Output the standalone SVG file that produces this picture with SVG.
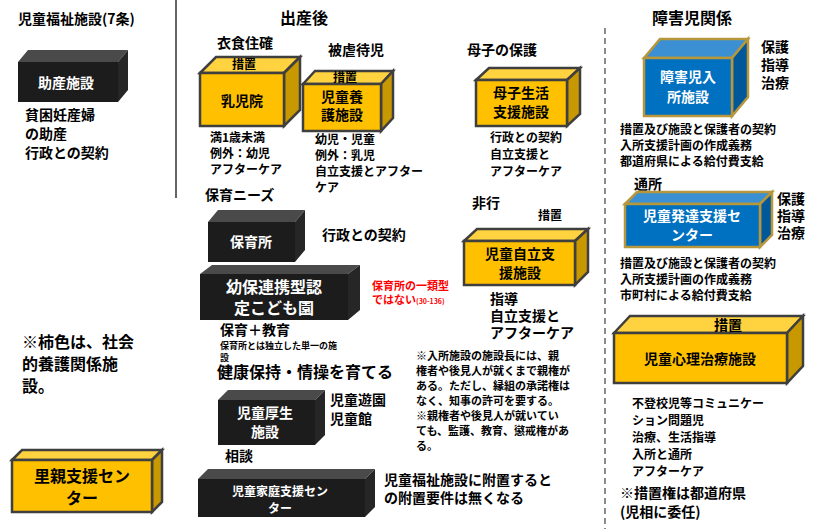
<svg xmlns="http://www.w3.org/2000/svg" width="819" height="529" viewBox="0 0 819 529">
<style>
text{font-family:"Noto Sans CJK JP","Noto Sans",sans-serif;font-weight:bold;fill:#000}
.t{font-size:14px}.s{font-size:12px}.h{font-size:16px}
.w{fill:#fff}.c{text-anchor:middle}
.yf{fill:#FFC000;stroke:#3f3f3f;stroke-width:2.5}.yt{fill:#FFD23F;stroke:#3f3f3f;stroke-width:2.5}.ys{fill:#C89800;stroke:#3f3f3f;stroke-width:2.5}
.bf{fill:#0070C0;stroke:#B8963C;stroke-width:2.5}.bt{fill:#3A90D2;stroke:#B8963C;stroke-width:2.5}.bs{fill:#00589A;stroke:#B8963C;stroke-width:2.5}
.kf{fill:#1c1c1c}.kt{fill:#4a4a4a}.ks{fill:#262626}
</style>
<rect width="819" height="529" fill="#fff"/>
<g id="connectors">
<line x1="176" y1="0" x2="176" y2="198" stroke="#333" stroke-width="1.5"/>
<line x1="605" y1="28" x2="605" y2="529" stroke="#666" stroke-width="1.5" stroke-dasharray="6,4"/>
</g>
<text x="18" y="24" class="t">児童福祉施設(7条)</text>
<text x="280" y="24" class="h">出産後</text>
<text x="652" y="24" class="h">障害児関係</text>
<g id="josan"><polygon class="kt" points="18,62 28,50 128,50 118,62"/><polygon class="ks" points="118,62 128,50 128,90 118,102"/><rect class="kf" x="18" y="62" width="100" height="40"/><text x="66" y="88" class="t w c">助産施設</text>
<text x="25" y="120" class="t">貧困妊産婦</text><text x="25" y="139" class="t">の助産</text><text x="25" y="158" class="t">行政との契約</text></g>
<g id="nyuji"><text x="217" y="48" class="t">衣食住確</text><polygon class="yt" points="200,73 216,57 300,57 284,73"/><polygon class="ys" points="284,73 300,57 300,110 284,126"/><rect class="yf" x="200" y="73" width="84" height="53"/><text x="244" y="69" class="s c">措置</text><text x="242" y="106" class="t c">乳児院</text>
<text x="210" y="142" class="s">満1歳未満</text><text x="210" y="158" class="s">例外：幼児</text><text x="210" y="174" class="s">アフターケア</text></g>
<g id="yogo"><text x="328" y="55" class="t">被虐待児</text><polygon class="yt" points="303,84 315,71 393,71 381,84"/><polygon class="ys" points="381,84 393,71 393,118 381,131"/><rect class="yf" x="303" y="84" width="78" height="47"/><text x="345" y="82" class="s c">措置</text><text x="342" y="102" class="t c">児童養</text><text x="342" y="120" class="t c">護施設</text>
<text x="315" y="144" class="s">幼児・児童</text><text x="315" y="160" class="s">例外：乳児</text><text x="315" y="176" class="s">自立支援とアフター</text><text x="315" y="192" class="s">ケア</text></g>
<g id="boshi"><text x="467" y="55" class="t">母子の保護</text><polygon class="yt" points="476,80 489,68 580,68 567,80"/><polygon class="ys" points="567,80 580,68 580,114 567,126"/><rect class="yf" x="476" y="80" width="91" height="46"/><text x="521" y="98" class="t c">母子生活</text><text x="521" y="117" class="t c">支援施設</text>
<text x="490" y="142" class="s">行政との契約</text><text x="490" y="159" class="s">自立支援と</text><text x="490" y="176" class="s">アフターケア</text></g>
<g id="hoikusho"><text x="205" y="200" class="t">保育ニーズ</text><polygon class="kt" points="208,222 218,210 305,210 295,222"/><polygon class="ks" points="295,222 305,210 305,250 295,262"/><rect class="kf" x="208" y="222" width="87" height="40"/><text x="251" y="247" class="t w c">保育所</text>
<text x="322" y="240" class="t">行政との契約</text></g>
<g id="kodomoen"><polygon class="kt" points="200,274 212,265 360,265 348,274"/><polygon class="ks" points="348,274 360,265 360,310 348,320"/><rect class="kf" x="200" y="274" width="148" height="46"/><text x="274" y="293" class="h w c">幼保連携型認</text><text x="274" y="314" class="h w c">定こども園</text>
<text x="372" y="290" font-size="11" style="fill:#f00">保育所の一類型</text><text x="372" y="304" font-size="11" style="fill:#f00">ではない<tspan font-size="7">(30-136)</tspan></text>
<text x="220" y="335" class="t">保育＋教育</text><text x="220" y="349" font-size="9">保育所とは独立した単一の施</text><text x="220" y="361" font-size="9">設</text><text x="217" y="378" class="h">健康保持・情操を育てる</text></g>
<g id="jiritsu"><text x="472" y="208" class="t">非行</text><text x="538" y="220" class="s">措置</text><polygon class="yt" points="464,241 477,229 588,229 575,241"/><polygon class="ys" points="575,241 588,229 588,272 575,285"/><rect class="yf" x="464" y="241" width="111" height="44"/><text x="520" y="259" class="t c">児童自立支</text><text x="520" y="278" class="t c">援施設</text>
<text x="490" y="304" class="t">指導</text><text x="490" y="321" class="t">自立支援と</text><text x="490" y="338" class="t">アフターケア</text></g>
<text x="416" y="360" font-size="11">※入所施設の施設長には、親</text><text x="416" y="375" font-size="11">権者や後見人が就くまで親権が</text><text x="416" y="390" font-size="11">ある。ただし、縁組の承諾権は</text><text x="416" y="405" font-size="11">なく、知事の許可を要する。</text><text x="416" y="420" font-size="11">※親権者や後見人が就いてい</text><text x="416" y="435" font-size="11">ても、監護、教育、懲戒権があ</text><text x="416" y="450" font-size="11">る。</text>
<g id="kousei"><polygon class="kt" points="218,400 228,390 325,390 315,400"/><polygon class="ks" points="315,400 325,390 325,435 315,445"/><rect class="kf" x="218" y="400" width="97" height="45"/><text x="265" y="418" class="t w c">児童厚生</text><text x="265" y="437" class="t w c">施設</text>
<text x="330" y="405" class="t">児童遊園</text><text x="330" y="424" class="t">児童館</text><text x="225" y="461" class="t">相談</text></g>
<g id="katei"><polygon class="kt" points="198,479 208,469 375,469 365,479"/><polygon class="ks" points="365,479 375,469 375,507 365,517"/><rect class="kf" x="198" y="479" width="167" height="38"/><text x="280" y="496" class="s w c">児童家庭支援セン</text><text x="280" y="513" class="s w c">ター</text>
<text x="384" y="485" class="t">児童福祉施設に附置すると</text><text x="384" y="503" class="t">の附置要件は無くなる</text></g>
<g id="shogai"><polygon class="bt" points="644,58 660,39 748,39 732,58"/><polygon class="bs" points="732,58 748,39 748,97 732,116"/><rect class="bf" x="644" y="58" width="88" height="58"/><text x="688" y="82" class="t w c">障害児入</text><text x="688" y="102" class="t w c">所施設</text>
<text x="761" y="52" class="t">保護</text><text x="761" y="70" class="t">指導</text><text x="761" y="88" class="t">治療</text>
<text x="620" y="134" class="s">措置及び施設と保護者の契約</text><text x="620" y="150" class="s">入所支援計画の作成義務</text><text x="620" y="166" class="s">都道府県による給付費支給</text></g>
<g id="hattatsu"><text x="634" y="189" class="t">通所</text><polygon class="bt" points="625,204 637,192 772,192 760,204"/><polygon class="bs" points="760,204 772,192 772,235 760,247"/><rect class="bf" x="625" y="204" width="135" height="43"/><text x="692" y="221" class="t w c">児童発達支援セ</text><text x="692" y="240" class="t w c">ンター</text>
<text x="777" y="204" class="t">保護</text><text x="777" y="221" class="t">指導</text><text x="777" y="238" class="t">治療</text>
<text x="620" y="268" class="s">措置及び施設と保護者の契約</text><text x="620" y="284" class="s">入所支援計画の作成義務</text><text x="620" y="300" class="s">市町村による給付費支給</text></g>
<g id="shinri"><polygon class="yt" points="614,333 630,316 803,316 787,333"/><polygon class="ys" points="787,333 803,316 803,366 787,383"/><rect class="yf" x="614" y="333" width="173" height="50"/><text x="728" y="330" class="t c">措置</text><text x="700" y="364" class="t c">児童心理治療施設</text>
<text x="632" y="408" class="s">不登校児等コミュニケー</text><text x="632" y="425" class="s">ション問題児</text><text x="632" y="442" class="s">治療、生活指導</text><text x="632" y="459" class="s">入所と通所</text><text x="632" y="476" class="s">アフターケア</text>
<text x="620" y="498" class="t">※措置権は都道府県</text><text x="620" y="517" class="t">(児相に委任)</text></g>
<text x="22" y="348" class="h">※柿色は、社会</text><text x="22" y="370" class="h">的養護関係施</text><text x="22" y="392" class="h">設。</text>
<g id="satooya"><polygon class="yt" points="12,460 22,450 162,450 152,460"/><polygon class="ys" points="152,460 162,450 162,502 152,512"/><rect class="yf" x="12" y="460" width="140" height="52"/><text x="82" y="482" class="h c">里親支援セン</text><text x="82" y="504" class="h c">ター</text></g>
</svg>
